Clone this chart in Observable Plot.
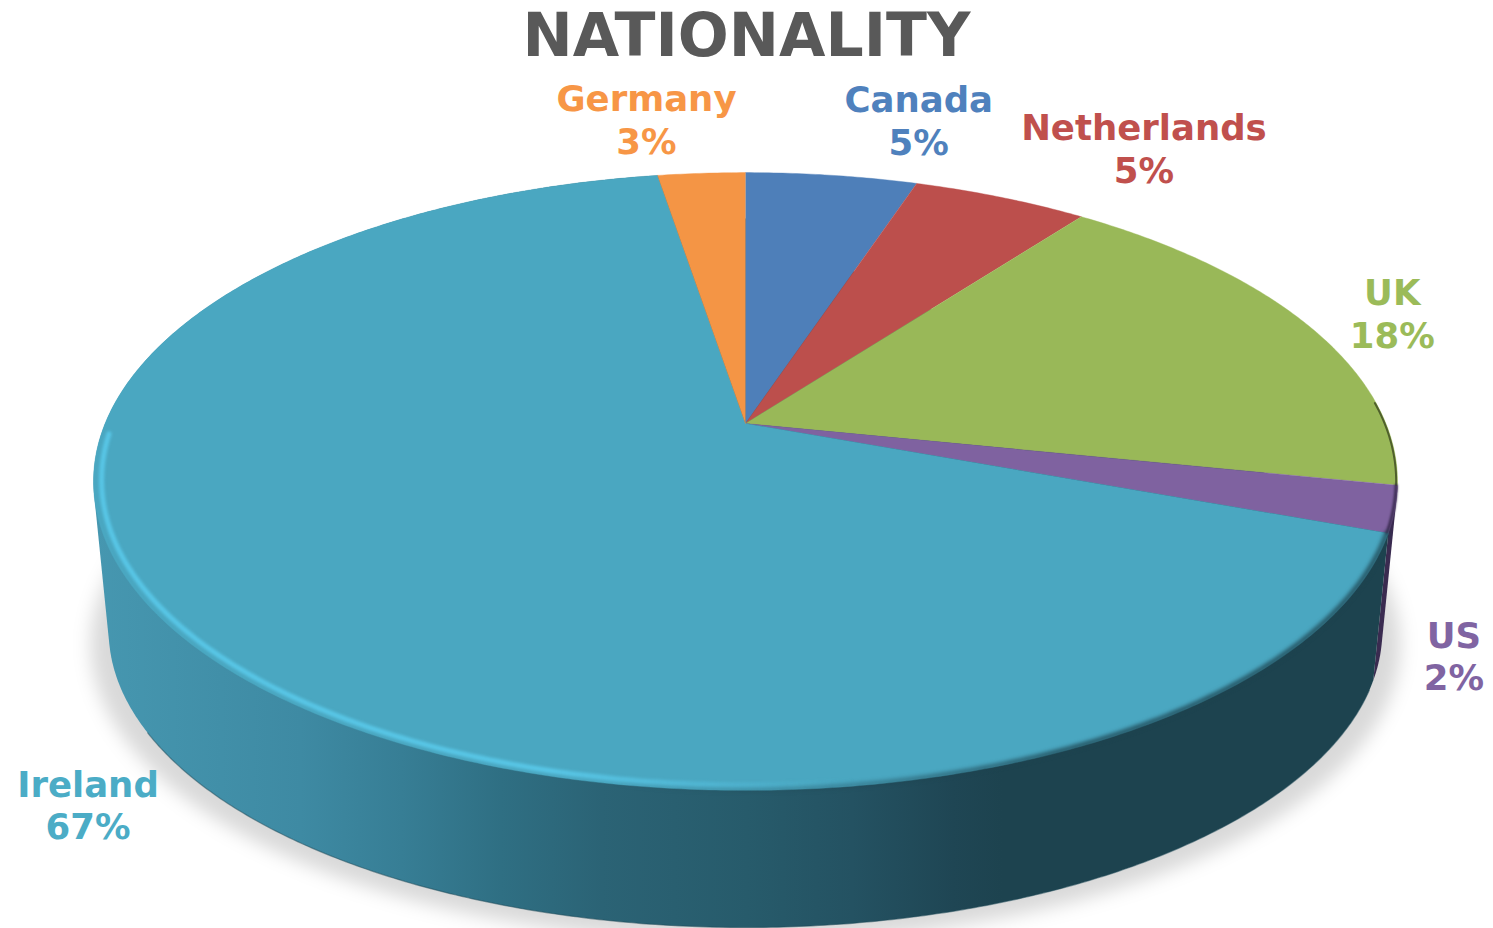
<!DOCTYPE html>
<html>
<head>
<meta charset="utf-8">
<script src="https://cdn.jsdelivr.net/npm/d3@7"></script>
<script src="https://cdn.jsdelivr.net/npm/@observablehq/plot@0.6"></script>
<style>
  html, body { margin: 0; padding: 0; background: #fff; overflow: hidden; }
  #title { height: 70px; text-align: center; font: bold 60px/70px "DejaVu Sans"; color: #595959; white-space: nowrap; }
  svg { display: block; }
</style>
</head>
<body>
<div id="title">NATIONALITY</div>
<div id="chart"></div>
<script>
// Data, clockwise from twelve o'clock
const categories = ["Canada", "Netherlands", "UK", "US", "Ireland", "Germany"];
const shares = [5.1, 5.2, 17.9, 2.4, 66.8, 2.6];
const faceColors = ["#4e7fb9", "#bc4f4c", "#99b858", "#7f62a0", "#4aa7c1", "#f49545"];
const labelColors = ["#4f81bd", "#c0504d", "#9bbb59", "#8064a2", "#4bacc6", "#f79646"];
const wallColors = ["#2c4a6e", "#702f2d", "#4f5f2c", "#3a2b50", "#1d434f", "#8f5727"];

// Perspective of the disc (picture coordinates)
const K = 0.1877;
const topDisc = {A: 640.4, B: 298, cx: 745, cy: 423};
const baseDisc = {A: 625.5, B: 286.5, cx: 745, cy: 574.3};
const rad = (deg) => (deg * Math.PI) / 180;
function project(disc, deg, r = 1) {
  const u = r * Math.sin(rad(deg)), v = r * Math.cos(rad(deg)), w = 1 + K * v;
  return {x: disc.cx + (disc.A * u) / w, y: disc.cy - (disc.B * v) / w};
}
function arc(disc, a0, a1, r = 1) {
  const n = Math.max(2, Math.ceil(Math.abs(a1 - a0) * 2));
  return d3.range(n + 1).map((i) => project(disc, a0 + ((a1 - a0) * i) / n, r));
}
function hull(points) {
  const h = d3.polygonHull(points.map((p) => [p.x, p.y]));
  return h.map(([x, y]) => ({x, y}));
}

const total = d3.sum(shares);
let run = 0;
const slices = categories.map((name, i) => {
  const a0 = (run / total) * 360;
  run += shares[i];
  const a1 = (run / total) * 360;
  return {name, i, a0, a1, mid: (a0 + a1) / 2, face: faceColors[i], ink: labelColors[i], wall: wallColors[i], share: shares[i]};
});

const labelNudges = {
  Canada: [87, -56], Netherlands: [143, -50], UK: [85, -12],
  US: [59, 146], Ireland: [-97, 165], Germany: [-55, -55]
};
const labels = slices.map((s) => {
  const p = project(topDisc, s.mid);
  return {x: p.x + labelNudges[s.name][0], y: p.y + labelNudges[s.name][1], text: `${s.name}\n${Math.round(s.share)}%`, ink: s.ink};
});

const wallStops = [[0, "#4697b0"], [0.16, "#3e8aa3"], [0.238, "#377e95"], [0.315, "#2f6f83"], [0.393, "#2b6375"],
  [0.505, "#275b6b"], [0.586, "#245262"], [0.664, "#1f4654"], [0.702, "#1d434f"], [1, "#1d434f"]];
const glowStops = [[0, "#58c6e6", 1], [0.6, "#58c6e6", 1], [1, "#58c6e6", 0]];
const shadeStops = [[0, "#1d434f", 0], [0.35, "#1d434f", 0.5], [0.6, "#1d434f", 1], [1, "#1d434f", 1]];

function defs() {
  const d = d3.create("svg:defs");
  const add = (id, stops) => {
    const g = d.append("linearGradient").attr("id", id);
    stops.forEach(([o, c, a = 1]) => g.append("stop").attr("offset", o).attr("stop-color", c).attr("stop-opacity", a));
  };
  add("wall-gradient", wallStops);
  add("glow-gradient", glowStops);
  add("shade-gradient", shadeStops);
  return d.node();
}

const ireland = slices[4], us = slices[3], uk = slices[2];
const sweep = (s) => [...arc(topDisc, s.a0, s.a1), ...arc(baseDisc, s.a1, s.a0)];
const shadowPts = arc(baseDisc, 0, 360).map((p) => ({x: 745 + (p.x - 745) * 1.028, y: p.y + 14}));

const xy = {x: "x", y: "y"};
const chart = Plot.plot({
  width: 1493, height: 858, margin: 0,
  x: {domain: [0, 1493], range: [0, 1493], axis: null},
  y: {domain: [70, 928], range: [0, 858], axis: null},
  marks: [
    defs,
    Plot.line(shadowPts, {...xy, fill: "#000", stroke: "none", fillOpacity: 0.15, imageFilter: "blur(9px)"}),
    Plot.line(hull(sweep(us)), {...xy, fill: us.wall, stroke: "none"}),
    Plot.line(hull(sweep(ireland)), {...xy, fill: "url(#wall-gradient)", stroke: "none"}),
    Plot.line(arc(baseDisc, 112, 240), {...xy, stroke: "#1d4a58", strokeWidth: 1.2, strokeOpacity: 0.5, imageFilter: "blur(0.6px)"}),
    ...slices.map((s) =>
      Plot.line([project(topDisc, 0, 0), ...arc(topDisc, s.a0, s.a1)], {...xy, fill: s.face, stroke: s.face, strokeWidth: 0.4})
    ),
    Plot.line(arc(topDisc, 86, uk.a1, 0.998), {...xy, stroke: uk.wall, strokeWidth: 2, imageFilter: "blur(0.7px)"}),
    Plot.line(arc(topDisc, us.a0, us.a1, 0.998), {...xy, stroke: us.wall, strokeWidth: 3, imageFilter: "blur(1px)"}),
    Plot.line(arc(topDisc, ireland.a0, 190, 0.998), {...xy, stroke: "url(#shade-gradient)", strokeWidth: 4, imageFilter: "blur(2px)"}),
    Plot.line(arc(topDisc, 172, 268, 0.988), {...xy, stroke: "url(#glow-gradient)", strokeWidth: 5, imageFilter: "blur(1.5px)"}),
    Plot.text(labels, {
      ...xy, text: "text", fill: (d) => d.ink, fontSize: 35.5, lineHeight: 1.21
    })
  ],
  color: {type: "identity"},
  style: {fontFamily: "DejaVu Sans", fontWeight: "bold", background: "transparent"}
});
document.getElementById("chart").append(chart);
</script>
</body>
</html>
